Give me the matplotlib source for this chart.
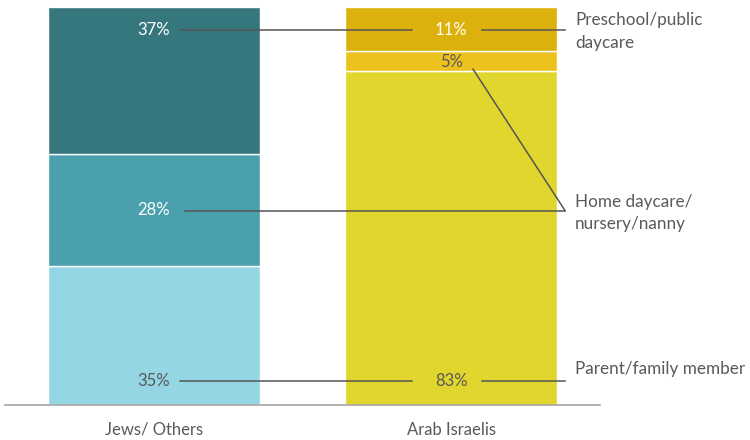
import matplotlib
matplotlib.use("Agg")
import matplotlib.pyplot as plt
import numpy as np

groups = ["Jews/ Others", "Arab Israelis"]
categories = ["Parent/family member", "Home daycare/\nnursery/nanny", "Preschool/public\ndaycare"]
# bottom -> top
jews = [35, 28, 37]
arab = [83, 5, 11]

jews_colors = ["#94D6E3", "#4AA0AD", "#36777E"]
arab_colors = ["#E0D62E", "#EDC21E", "#DDB10C"]

plt.rcParams["font.family"] = ["Lato", "DejaVu Sans"]

fig = plt.figure(figsize=(7.5, 4.4), dpi=100)
ax = fig.add_axes([5 / 750, 1 - 405 / 440, 595 / 750, 398 / 440])

x = np.arange(len(groups))
wd = 0.713
gray = "#595959"
linec = "#555555"

for xi, vals, cols in [(x[0], jews, jews_colors), (x[1], arab, arab_colors)]:
    shares = np.array(vals, dtype=float) / sum(vals) * 100
    bottom = 0
    for s, c in zip(shares, cols):
        ax.bar(xi, s, width=wd, bottom=bottom, color=c, edgecolor="white", linewidth=1)
        bottom += s

# value labels (y positions in axis units)
jy = [6, 49, 94.3]
ay = [6, 86.3, 94.3]
jcol = [gray, "white", "white"]
acol = [gray, gray, "white"]
for i in range(3):
    ax.text(x[0], jy[i], f"{jews[i]}%", ha="center", va="center", fontsize=12, color=jcol[i])
    ax.text(x[1], ay[i], f"{arab[i]}%", ha="center", va="center", fontsize=12, color=acol[i])

# connector lines
lw = 1.1
ax.plot([0.088, 0.868], [6, 6], color=linec, lw=lw)
ax.plot([1.105, 1.382], [6, 6], color=linec, lw=lw)
ax.plot([0.105, 1.382], [48.7, 48.7], color=linec, lw=lw)
ax.plot([1.073, 1.382], [84.4, 48.9], color=linec, lw=lw)
ax.plot([0.088, 0.868], [94.3, 94.3], color=linec, lw=lw)
ax.plot([1.105, 1.382], [94.3, 94.3], color=linec, lw=lw)

# category labels
cy = [9.0, 48.3, 93.8]
for c, yy in zip(categories, cy):
    ax.text(1.416, yy, c, ha="left", va="center", fontsize=12.3, color=gray,
            linespacing=1.5, clip_on=False)

ax.set_xlim(-0.5, 1.5)
ax.set_ylim(0, 100)
ax.set_xticks(x)
ax.set_xticklabels(groups, fontsize=12, color=gray)
ax.tick_params(axis="x", length=0, pad=12)
ax.set_yticks([])
for s in ["top", "left", "right"]:
    ax.spines[s].set_visible(False)
ax.spines["bottom"].set_color("#A6A6A6")
ax.spines["bottom"].set_linewidth(1.2)

fig.savefig("out.png", dpi=100)
